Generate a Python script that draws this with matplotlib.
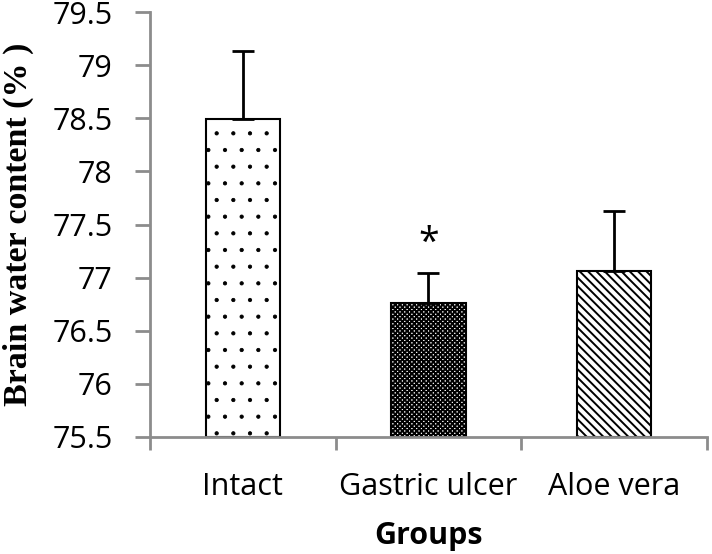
import matplotlib
matplotlib.use("Agg")
import matplotlib.pyplot as plt
import numpy as np

# data
groups = ["Intact", "Gastric ulcer", "Aloe vera"]
means = [78.49, 76.76, 77.06]
sems = [0.64, 0.28, 0.57]
hatches = [".", "xxxxxxx", "\\\\\\\\"]
hatch_widths = [0.6, 1.4, 1.4]
star_group = 1

plt.rcParams["hatch.linewidth"] = 1.4
plt.rcParams["hatch.color"] = "black"

fig = plt.figure(figsize=(7.12, 5.54), dpi=100)
ax = fig.add_axes([0.2107, 0.2112, 0.782, 0.767])

x = np.arange(len(groups))
lower = np.zeros(len(groups))
bars = ax.bar(x, np.array(means) - 75.5, bottom=75.5, width=0.4, color="white",
              edgecolor="black", linewidth=1.5, zorder=2)
for b, h, hw in zip(bars, hatches, hatch_widths):
    b.set_hatch(h)
    try:
        b.set_hatch_linewidth(hw)
    except AttributeError:
        pass
ax.errorbar(x, means, yerr=[lower, sems], fmt="none", ecolor="black",
            elinewidth=2, capsize=8, capthick=2, zorder=3)

# significance star
ax.text(x[star_group], means[star_group] + sems[star_group] + 0.28, "*",
        ha="center", va="center", fontsize=27, family="Open Sans")

ax.set_xlim(-0.5, 2.5)
ax.set_ylim(75.5, 79.5)
ax.set_yticks(np.arange(75.5, 79.51, 0.5))
ax.set_yticklabels(["75.5", "76", "76.5", "77", "77.5", "78", "78.5", "79", "79.5"])
ax.set_xticks(x)
ax.set_xticklabels(groups)
ax.set_xticks([-0.5, 0.5, 1.5, 2.5], minor=True)

for s in ["top", "right"]:
    ax.spines[s].set_visible(False)
for s in ["left", "bottom"]:
    ax.spines[s].set_color("#8c8c8c")
    ax.spines[s].set_linewidth(2)

ax.tick_params(axis="y", length=11, width=2, color="#8c8c8c", labelsize=22, pad=16)
ax.tick_params(axis="x", which="major", length=0, labelsize=22, pad=25)
ax.tick_params(axis="x", which="minor", length=9, width=2, color="#8c8c8c")
for lab in ax.get_xticklabels() + ax.get_yticklabels():
    lab.set_family("Open Sans")

ax.set_xlabel("Groups", fontsize=22, fontweight="bold", family="Open Sans", labelpad=14)
ax.set_ylabel("Brain water content (% )", fontsize=24.5, fontweight="bold",
              family="Liberation Serif")
ax.yaxis.set_label_coords(-0.208, 0.5)

fig.savefig("out.png", dpi=100)
plt.close(fig)
